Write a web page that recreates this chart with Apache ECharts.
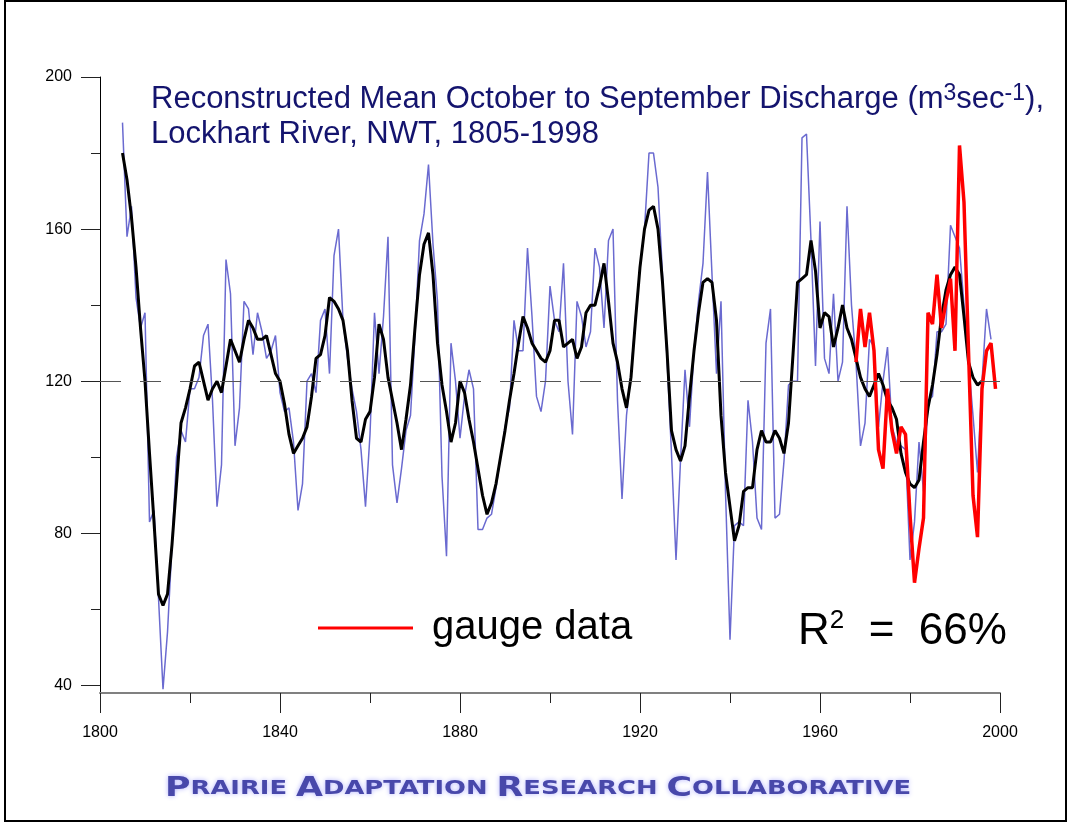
<!DOCTYPE html>
<html>
<head>
<meta charset="utf-8">
<script src="https://cdn.jsdelivr.net/npm/echarts@6/dist/echarts.min.js"></script>
<style>
html, body { margin: 0; padding: 0; background: #fff; }
#main { width: 1068px; height: 824px; }
</style>
</head>
<body>
<div id="main"></div>
<script>
// annual reconstruction, 1805-1998
const reconStart = 1805
const reconstructed = [
  188, 158, 166, 142, 134, 138, 83, 86, 63, 39,
  54, 77, 100, 107, 104, 118, 118, 121, 132, 135,
  115, 87, 98, 152, 143, 103, 113, 141, 139, 127,
  138, 133, 126, 128, 132, 117, 112, 113, 104, 86,
  93, 120, 122, 117, 136, 139, 122, 153, 160, 136,
  126, 118, 112, 102, 87, 106, 138, 122, 137, 158,
  98, 88, 97, 107, 111, 132, 157, 164, 177, 156,
  141, 95, 74, 130, 120, 105, 116, 123, 118, 81,
  81, 84, 85, 92, 100, 108, 113, 136, 128, 128,
  155, 137, 116, 112, 120, 145, 136, 133, 151, 120,
  106, 141, 137, 129, 133, 155, 150, 134, 157, 160,
  115, 89, 111, 122, 137, 150, 160, 180, 180, 171,
  148, 126, 101, 73, 99, 123, 108, 128, 141, 151,
  175, 148, 122, 141, 91, 52, 82, 83, 82, 115,
  104, 84, 81, 130, 139, 84, 85, 99, 119, 120,
  120, 184, 185, 157, 124, 162, 126, 122, 143, 120,
  125, 166, 140, 125, 103, 109, 131, 129, 108, 120,
  129, 108, 104, 103, 102, 73, 83, 104, 91, 115,
  116, 133, 133, 135, 161, 158, 155, 140, 125, 111,
  96, 120, 139, 131
]
// smoothed curve, 1805-1996
const smoothStart = 1805
const smoothed = [
  180, 173, 163, 150, 134, 120, 101, 83, 64, 61,
  64, 77, 93, 109, 113, 118, 124, 125, 120, 115,
  118, 120, 117, 124, 131, 128, 125, 131, 136, 134,
  131, 131, 132, 127, 122, 120, 114, 106, 101, 103,
  105, 108, 116, 126, 127, 132, 142, 141, 139, 136,
  128, 115, 105, 104, 110, 112, 121, 135, 131, 121,
  115, 109, 102, 110, 119, 134, 148, 156, 159, 148,
  130, 119, 112, 104, 109, 120, 117, 110, 104, 97,
  90, 85, 88, 93, 100, 107, 115, 122, 130, 137,
  134, 130, 128, 126, 125, 128, 136, 136, 129, 130,
  131, 126, 129, 138, 140, 140, 145, 151, 141, 130,
  125, 118, 113, 121, 136, 150, 160, 165, 166, 160,
  146, 128, 107, 102, 99, 103, 116, 128, 138, 146,
  147, 146, 136, 111, 96, 87, 78, 82, 91, 92,
  92, 102, 107, 104, 104, 107, 105, 101, 109, 127,
  146, 147, 148, 157, 149, 134, 138, 137, 129, 134,
  140, 134, 131, 126, 121, 118, 116, 119, 122, 119,
  115, 113, 110, 101, 96, 93, 92, 94, 104, 113,
  119, 127, 137, 144, 148, 150, 148, 137, 125, 121,
  119, 120
]
// gauge record, 1968-1999
const gaugeStart = 1968
const gauge = [
  125, 139, 129, 138, 128, 102, 97, 118, 107, 101,
  108, 106, 85, 67, 76, 84, 138, 135, 148, 134,
  141, 147, 128, 182, 167, 128, 90, 79, 118, 128,
  130, 118
]
const yLabelValues = [40, 80, 120, 160, 200]
const yMinorValues = [60, 100, 140, 180]
const meanFlow = 120

const toPairs = (start, values) => values.map((v, i) => [start + i, v])

const chart = echarts.init(document.getElementById('main'))

const footerText = '{b|P}{s|RAIRIE }{b|A}{s|DAPTATION }{b|R}{s|ESEARCH }{b|C}{s|OLLABORATIVE}'

const option = {
  animation: false,
  backgroundColor: '#fff',
  title: [
    {
      left: 151,
      top: 82,
      padding: 0,
      text: '{n|Reconstructed Mean October to September Discharge (m}{s|3}{n|sec}{s|-1}{n|),}\n{n|Lockhart River, NWT, 1805-1998}',
      textStyle: {
        fontWeight: 'normal',
        rich: {
          n: { fontFamily: 'Liberation Sans', fontWeight: 'normal', fontSize: 31, color: '#14146e', lineHeight: 35 },
          s: { fontFamily: 'Liberation Sans', fontWeight: 'normal', fontSize: 23, color: '#14146e', lineHeight: 22, verticalAlign: 'top' }
        }
      }
    },
    {
      left: 798,
      top: 608,
      padding: 0,
      text: '{r|R}{s|2}{r|  =  66%}',
      textStyle: {
        fontWeight: 'normal',
        rich: {
          r: { fontFamily: 'Liberation Sans', fontWeight: 'normal', fontSize: 44, color: '#000', lineHeight: 48 },
          s: { fontFamily: 'Liberation Sans', fontWeight: 'normal', fontSize: 26, color: '#000', lineHeight: 26, verticalAlign: 'top' }
        }
      }
    }
  ],
  legend: {
    data: ['gauge data'],
    left: 318,
    top: 608,
    padding: 0,
    icon: 'rect',
    itemWidth: 95,
    itemHeight: 3,
    textStyle: { fontFamily: 'Liberation Sans', fontSize: 40, color: '#000', padding: [0, 0, 0, 14] }
  },
  grid: { left: 100, top: 77, width: 900, height: 616 },
  xAxis: {
    type: 'value',
    min: 1800,
    max: 2000,
    interval: 40,
    axisLine: { lineStyle: { color: '#808080', width: 2 } },
    axisTick: { length: 20, lineStyle: { color: '#222', width: 1 } },
    minorTick: { show: true, splitNumber: 2, length: 10, lineStyle: { color: '#222', width: 1 } },
    axisLabel: { margin: 32, fontFamily: 'Liberation Sans', fontSize: 16, color: '#000', formatter: v => String(v) },
    splitLine: { show: false }
  },
  yAxis: [
    {
      type: 'value',
      min: 38,
      max: 200,
      axisLine: { show: true, lineStyle: { color: '#000', width: 1 } },
      axisTick: { show: true, length: 19, customValues: yLabelValues, lineStyle: { color: '#222' } },
      axisLabel: { customValues: yLabelValues, margin: 28, fontFamily: 'Liberation Sans', fontSize: 16, color: '#000' },
      splitLine: { show: false }
    },
    {
      type: 'value',
      min: 38,
      max: 200,
      position: 'left',
      axisLine: { show: false },
      axisTick: { show: true, length: 9, customValues: yMinorValues, lineStyle: { color: '#222' } },
      axisLabel: { show: false },
      splitLine: { show: false }
    }
  ],
  series: [
    {
      name: 'reconstructed',
      type: 'line',
      data: toPairs(reconStart, reconstructed),
      symbol: 'none',
      lineStyle: { color: '#6a6ad0', width: 1.5 },
      markLine: {
        silent: true,
        symbol: 'none',
        label: { show: false },
        lineStyle: { color: '#555', width: 1, type: [21, 19] },
        data: [{ yAxis: meanFlow }]
      }
    },
    {
      name: 'smoothed',
      type: 'line',
      data: toPairs(smoothStart, smoothed),
      symbol: 'none',
      lineStyle: { color: '#000', width: 3 },
      itemStyle: { color: '#000' }
    },
    {
      name: 'gauge data',
      type: 'line',
      data: toPairs(gaugeStart, gauge),
      symbol: 'none',
      lineStyle: { color: '#ff0000', width: 3.5 },
      itemStyle: { color: '#ff0000' }
    }
  ],
  graphic: [
    {
      type: 'rect',
      silent: true,
      shape: { x: 5, y: 1, width: 1061, height: 820 },
      style: { fill: 'none', stroke: '#000', lineWidth: 2 }
    },
    {
      type: 'text',
      silent: true,
      x: 165,
      y: 775,
      scaleX: 1.29,
      style: {
        text: footerText,
        rich: {
          b: { fontFamily: 'DejaVu Sans', fontWeight: 'bold', fontSize: 27, fill: '#4848aa', textShadowColor: '#b0b0ff', textShadowBlur: 5 },
          s: { fontFamily: 'DejaVu Sans', fontWeight: 'bold', fontSize: 20, fill: '#4848aa', textShadowColor: '#b0b0ff', textShadowBlur: 5 }
        }
      }
    }
  ]
}

chart.setOption(option)
</script>
</body>
</html>
